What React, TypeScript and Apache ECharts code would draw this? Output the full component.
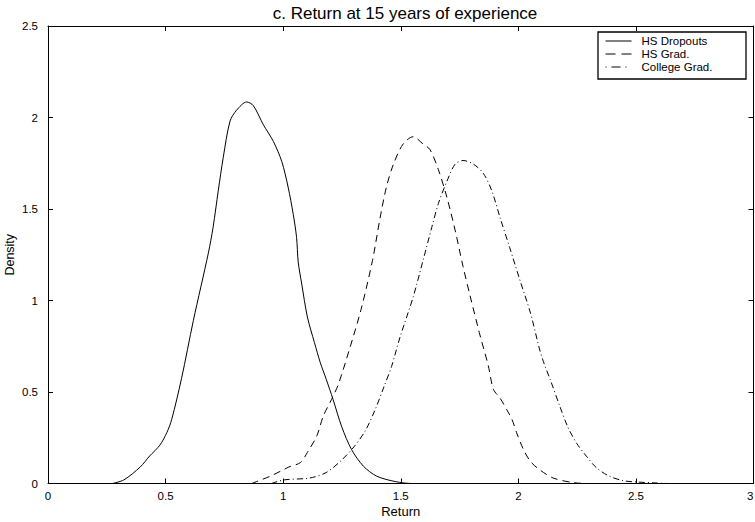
import React, { useEffect, useRef } from "react";
import * as echarts from "echarts";

const titleText = "c. Return at 15 years of experience";
const xAxisName = "Return";
const yAxisName = "Density";
const xRange = [0, 3];
const yRange = [0, 2.5];
const tickStep = 0.5;
const seriesNames = ["HS Dropouts", "HS Grad.", "College Grad."];

// [return, density]
const hsDropouts = [
  [0.274, 0], [0.323, 0.02], [0.392, 0.09], [0.432, 0.15], [0.476, 0.21],
  [0.506, 0.28], [0.526, 0.35], [0.568, 0.575], [0.618, 0.89], [0.682, 1.26],
  [0.702, 1.4], [0.724, 1.6], [0.745, 1.78], [0.774, 1.98], [0.802, 2.04],
  [0.845, 2.085], [0.873, 2.065], [0.916, 1.96], [0.958, 1.87], [0.994, 1.76],
  [1.021, 1.62], [1.043, 1.47], [1.057, 1.345], [1.064, 1.21], [1.079, 1.09],
  [1.103, 0.91], [1.133, 0.77], [1.158, 0.66], [1.183, 0.57], [1.212, 0.46],
  [1.249, 0.31], [1.291, 0.185], [1.341, 0.095], [1.398, 0.04], [1.479, 0.01],
  [1.548, 0], [1.597, 0],
];

const hsGrad = [
  [0.866, 0], [0.886, 0.01], [0.945, 0.04], [1.001, 0.075], [1.024, 0.09],
  [1.074, 0.115], [1.103, 0.17], [1.143, 0.26], [1.171, 0.37], [1.206, 0.46],
  [1.234, 0.54], [1.281, 0.73], [1.331, 0.95], [1.38, 1.22], [1.412, 1.45],
  [1.439, 1.62], [1.469, 1.745], [1.51, 1.855], [1.553, 1.895], [1.595, 1.855],
  [1.624, 1.825], [1.66, 1.715], [1.696, 1.565], [1.731, 1.385], [1.765, 1.185],
  [1.795, 1.025], [1.834, 0.825], [1.872, 0.645], [1.894, 0.515], [1.923, 0.465],
  [1.95, 0.405], [1.973, 0.35], [1.992, 0.28], [2.022, 0.185], [2.052, 0.12],
  [2.091, 0.075], [2.148, 0.03], [2.233, 0.005], [2.305, 0], [2.387, 0],
];

const collegeGrad = [
  [0.95, 0], [1.005, 0.02], [1.113, 0.03], [1.183, 0.06], [1.242, 0.12],
  [1.301, 0.2], [1.35, 0.29], [1.39, 0.4], [1.429, 0.53], [1.461, 0.64],
  [1.497, 0.8], [1.553, 1.02], [1.595, 1.22], [1.632, 1.4], [1.66, 1.53],
  [1.696, 1.65], [1.731, 1.745], [1.765, 1.765], [1.809, 1.745], [1.851, 1.695],
  [1.887, 1.6], [1.923, 1.45], [1.963, 1.29], [2.007, 1.11], [2.052, 0.93],
  [2.091, 0.73], [2.111, 0.65], [2.135, 0.57], [2.177, 0.42], [2.21, 0.31],
  [2.248, 0.22], [2.289, 0.15], [2.333, 0.085], [2.387, 0.04], [2.447, 0.015],
  [2.506, 0.008], [2.585, 0.003], [2.634, 0],
];

const seriesData = [hsDropouts, hsGrad, collegeGrad];
const dashPatterns: (string | number[])[] = ["solid", [7, 5], [6, 3, 1, 3]];
const legendDashPatterns: (string | number[])[] = ["solid", [10, 6], [1, 5, 9, 5, 1, 5]];

export default function App() {
  const ref = useRef<HTMLDivElement>(null);

  useEffect(() => {
    if (!ref.current) return;
    const chart = echarts.init(ref.current, null, { renderer: "svg" });
    const font = "'Liberation Sans', Arial, Helvetica, sans-serif";
    const black = "#000";
    const fmt = (v: number) => String(v);

    const valueAxis = (
      range: number[],
      position: string,
      showLabels: boolean,
      extra: any = {}
    ) => ({
      type: "value",
      position,
      min: range[0],
      max: range[1],
      interval: tickStep,
      axisLine: { show: true, onZero: false, lineStyle: { color: black, width: 1 } },
      axisTick: { show: true, inside: true, length: 5, lineStyle: { color: black, width: 1 } },
      axisLabel: {
        show: showLabels,
        color: black,
        fontSize: 11.5,
        fontFamily: font,
        formatter: fmt,
      },
      splitLine: { show: false },
      ...extra,
    });

    chart.setOption({
      animation: false,
      backgroundColor: "#fff",
      title: {
        text: titleText,
        left: 400,
        textAlign: "center",
        top: 0,
        textStyle: { fontSize: 17, fontWeight: "normal", color: black, fontFamily: font },
      },
      legend: {
        data: seriesNames.map((name, i) => ({
          name,
          lineStyle: { color: black, width: 1, type: legendDashPatterns[i] },
        })),
        orient: "vertical",
        left: 605,
        top: 35,
        padding: 0,
        itemWidth: 26,
        itemHeight: 12,
        itemGap: 1,
        itemStyle: { color: "transparent", borderWidth: 0, opacity: 0 },
        lineStyle: { width: 1 },
        textStyle: { fontSize: 11.5, color: black, fontFamily: font, padding: [0, 0, 0, 5] },
      },
      graphic: [
        {
          type: "rect",
          z: 3,
          shape: { x: 598, y: 32, width: 148, height: 47 },
          style: { fill: "#fff", stroke: black, lineWidth: 1.3 },
        },
      ],
      grid: {
        left: 48,
        right: 1.5,
        top: 26,
        bottom: 38.5,
        containLabel: false,
        outerBoundsMode: "none",
      },
      xAxis: [
        valueAxis(xRange, "bottom", true, {
          name: xAxisName,
          nameLocation: "middle",
          nameGap: 21,
          nameMoveOverlap: false,
          nameTextStyle: { fontSize: 13, color: black, fontFamily: font },
          axisLabel: {
            color: black,
            fontSize: 11.5,
            fontFamily: font,
            margin: 6,
            formatter: fmt,
            alignMaxLabel: "right",
          },
        }),
        valueAxis(xRange, "top", false),
      ],
      yAxis: [
        valueAxis(yRange, "left", true, {
          name: yAxisName,
          nameLocation: "middle",
          nameGap: 32,
          nameMoveOverlap: false,
          nameTextStyle: { fontSize: 12.5, color: black, fontFamily: font },
          axisLabel: { color: black, fontSize: 11.5, fontFamily: font, margin: 10, formatter: fmt },
        }),
        valueAxis(yRange, "right", false),
      ],
      series: seriesData.map((d, i) => ({
        name: seriesNames[i],
        type: "line",
        xAxisIndex: 0,
        yAxisIndex: 0,
        data: d,
        symbol: "none",
        showSymbol: false,
        smooth: 0.3,
        lineStyle: { color: black, width: 1, type: dashPatterns[i] },
        itemStyle: { color: black },
      })),
    });

    return () => chart.dispose();
  }, []);

  return (
    <div
      ref={ref}
      style={{ position: "fixed", left: 0, top: 0, width: 755, height: 522, background: "#fff" }}
    />
  );
}
